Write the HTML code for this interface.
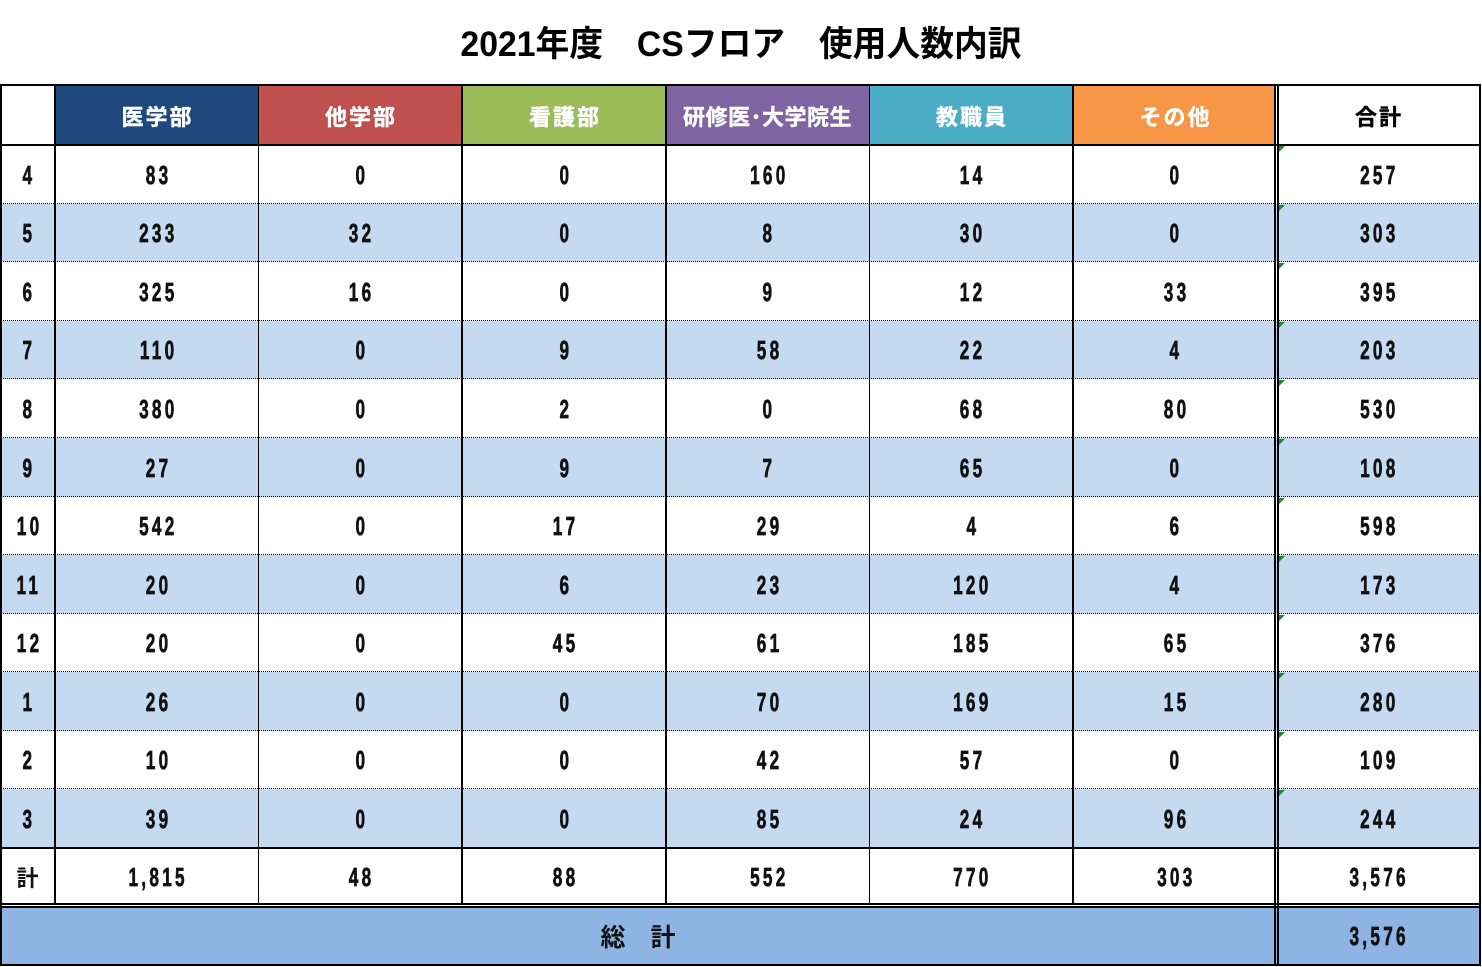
<!DOCTYPE html>
<html><head><meta charset="utf-8">
<style>
*{margin:0;padding:0;box-sizing:border-box}
html,body{width:1482px;height:967px;background:#fff;overflow:hidden}
body{position:relative;font-family:"Liberation Sans","Noto Sans CJK JP",sans-serif}
.title{position:absolute;left:0;top:20px;width:1482px;height:50px;line-height:50px;text-align:center;font-size:35px;font-weight:bold;color:#000;font-family:"Liberation Sans","Noto Sans CJK JP",sans-serif;transform:scaleX(.965)}
.row{position:absolute;left:0;width:1480px;display:flex}
.c{height:100%;display:flex;align-items:center;justify-content:center;flex:none}
.w0{width:55px}.w1{width:203px}.w2{width:204px}.w3{width:204px}.w4{width:203px}.w5{width:204px}.w6{width:203px}.w7{width:204px}
.alt .c{background:#C5D9F1}
.n{display:inline-block;font-family:"Liberation Sans",sans-serif;font-weight:bold;font-size:26px;letter-spacing:5px;padding-left:5px;transform:scaleX(.66);color:#111;line-height:1;-webkit-text-stroke:0.7px #111;margin-top:0}
.h{font-family:"Liberation Sans","Noto Sans CJK JP",sans-serif;font-weight:bold;font-size:22px;letter-spacing:2px;padding-left:2px;color:#fff;-webkit-text-stroke:0.4px #fff}
.hk{color:#000;-webkit-text-stroke:0.4px #000}
.j{font-family:"Noto Sans CJK JP",sans-serif;font-weight:bold;font-size:22px;color:#111}
.l{position:absolute;background:#000}
.d{position:absolute;left:0;width:1480px;height:0;border-top:1px dotted #000}
.g{position:absolute;left:1279px;width:0;height:0;border-top:6px solid #1f8a2a;border-right:6px solid transparent}
</style></head><body>
<div class="title">2021年度　CSフロア　使用人数内訳</div>

<!-- header -->
<div class="row" style="top:86px;height:59px">
<div class="c w0"></div>
<div class="c w1" style="background:#1F497D"><span class="h">医学部</span></div>
<div class="c w2" style="background:#C0504D"><span class="h">他学部</span></div>
<div class="c w3" style="background:#9BBB59"><span class="h">看護部</span></div>
<div class="c w4" style="background:#8064A2"><span class="h" style="letter-spacing:0.5px;padding-left:0">研修医･大学院生</span></div>
<div class="c w5" style="background:#4BACC6"><span class="h">教職員</span></div>
<div class="c w6" style="background:#F79646"><span class="h">その他</span></div>
<div class="c w7"><span class="h hk">合計</span></div>
</div>

<div class="row" style="top:145px;height:59px"><div class="c w0"><span class="n">4</span></div><div class="c w1"><span class="n">83</span></div><div class="c w2"><span class="n">0</span></div><div class="c w3"><span class="n">0</span></div><div class="c w4"><span class="n">160</span></div><div class="c w5"><span class="n">14</span></div><div class="c w6"><span class="n">0</span></div><div class="c w7"><span class="n">257</span></div></div>
<div class="row alt" style="top:204px;height:58px"><div class="c w0"><span class="n">5</span></div><div class="c w1"><span class="n">233</span></div><div class="c w2"><span class="n">32</span></div><div class="c w3"><span class="n">0</span></div><div class="c w4"><span class="n">8</span></div><div class="c w5"><span class="n">30</span></div><div class="c w6"><span class="n">0</span></div><div class="c w7"><span class="n">303</span></div></div>
<div class="row" style="top:262px;height:59px"><div class="c w0"><span class="n">6</span></div><div class="c w1"><span class="n">325</span></div><div class="c w2"><span class="n">16</span></div><div class="c w3"><span class="n">0</span></div><div class="c w4"><span class="n">9</span></div><div class="c w5"><span class="n">12</span></div><div class="c w6"><span class="n">33</span></div><div class="c w7"><span class="n">395</span></div></div>
<div class="row alt" style="top:321px;height:58px"><div class="c w0"><span class="n">7</span></div><div class="c w1"><span class="n">110</span></div><div class="c w2"><span class="n">0</span></div><div class="c w3"><span class="n">9</span></div><div class="c w4"><span class="n">58</span></div><div class="c w5"><span class="n">22</span></div><div class="c w6"><span class="n">4</span></div><div class="c w7"><span class="n">203</span></div></div>
<div class="row" style="top:379px;height:59px"><div class="c w0"><span class="n">8</span></div><div class="c w1"><span class="n">380</span></div><div class="c w2"><span class="n">0</span></div><div class="c w3"><span class="n">2</span></div><div class="c w4"><span class="n">0</span></div><div class="c w5"><span class="n">68</span></div><div class="c w6"><span class="n">80</span></div><div class="c w7"><span class="n">530</span></div></div>
<div class="row alt" style="top:438px;height:59px"><div class="c w0"><span class="n">9</span></div><div class="c w1"><span class="n">27</span></div><div class="c w2"><span class="n">0</span></div><div class="c w3"><span class="n">9</span></div><div class="c w4"><span class="n">7</span></div><div class="c w5"><span class="n">65</span></div><div class="c w6"><span class="n">0</span></div><div class="c w7"><span class="n">108</span></div></div>
<div class="row" style="top:497px;height:58px"><div class="c w0"><span class="n">10</span></div><div class="c w1"><span class="n">542</span></div><div class="c w2"><span class="n">0</span></div><div class="c w3"><span class="n">17</span></div><div class="c w4"><span class="n">29</span></div><div class="c w5"><span class="n">4</span></div><div class="c w6"><span class="n">6</span></div><div class="c w7"><span class="n">598</span></div></div>
<div class="row alt" style="top:555px;height:59px"><div class="c w0"><span class="n">11</span></div><div class="c w1"><span class="n">20</span></div><div class="c w2"><span class="n">0</span></div><div class="c w3"><span class="n">6</span></div><div class="c w4"><span class="n">23</span></div><div class="c w5"><span class="n">120</span></div><div class="c w6"><span class="n">4</span></div><div class="c w7"><span class="n">173</span></div></div>
<div class="row" style="top:614px;height:58px"><div class="c w0"><span class="n">12</span></div><div class="c w1"><span class="n">20</span></div><div class="c w2"><span class="n">0</span></div><div class="c w3"><span class="n">45</span></div><div class="c w4"><span class="n">61</span></div><div class="c w5"><span class="n">185</span></div><div class="c w6"><span class="n">65</span></div><div class="c w7"><span class="n">376</span></div></div>
<div class="row alt" style="top:672px;height:59px"><div class="c w0"><span class="n">1</span></div><div class="c w1"><span class="n">26</span></div><div class="c w2"><span class="n">0</span></div><div class="c w3"><span class="n">0</span></div><div class="c w4"><span class="n">70</span></div><div class="c w5"><span class="n">169</span></div><div class="c w6"><span class="n">15</span></div><div class="c w7"><span class="n">280</span></div></div>
<div class="row" style="top:731px;height:58px"><div class="c w0"><span class="n">2</span></div><div class="c w1"><span class="n">10</span></div><div class="c w2"><span class="n">0</span></div><div class="c w3"><span class="n">0</span></div><div class="c w4"><span class="n">42</span></div><div class="c w5"><span class="n">57</span></div><div class="c w6"><span class="n">0</span></div><div class="c w7"><span class="n">109</span></div></div>
<div class="row alt" style="top:789px;height:59px"><div class="c w0"><span class="n">3</span></div><div class="c w1"><span class="n">39</span></div><div class="c w2"><span class="n">0</span></div><div class="c w3"><span class="n">0</span></div><div class="c w4"><span class="n">85</span></div><div class="c w5"><span class="n">24</span></div><div class="c w6"><span class="n">96</span></div><div class="c w7"><span class="n">244</span></div></div>
<div class="row" style="top:848px;height:57px"><div class="c w0"><span class="j">計</span></div><div class="c w1"><span class="n">1,815</span></div><div class="c w2"><span class="n">48</span></div><div class="c w3"><span class="n">88</span></div><div class="c w4"><span class="n">552</span></div><div class="c w5"><span class="n">770</span></div><div class="c w6"><span class="n">303</span></div><div class="c w7"><span class="n">3,576</span></div></div>
<div class="row" style="top:907px;height:58px">
<div class="c" style="width:1276px;background:#8DB4E2"><span class="j" style="font-size:25px;color:#111">総　計</span></div>
<div class="c w7" style="background:#8DB4E2"><span class="n">3,576</span></div>
</div>

<!-- dotted separators -->
<div class="d" style="top:203px"></div>
<div class="d" style="top:261px"></div>
<div class="d" style="top:320px"></div>
<div class="d" style="top:378px"></div>
<div class="d" style="top:437px"></div>
<div class="d" style="top:496px"></div>
<div class="d" style="top:554px"></div>
<div class="d" style="top:613px"></div>
<div class="d" style="top:671px"></div>
<div class="d" style="top:730px"></div>
<div class="d" style="top:788px"></div>

<!-- horizontal solid lines -->
<div class="l" style="left:0;top:84px;width:1481px;height:2px"></div>
<div class="l" style="left:0;top:144px;width:1481px;height:2px"></div>
<div class="l" style="left:0;top:847px;width:1481px;height:2px"></div>
<div class="l" style="left:0;top:903px;width:1481px;height:2px"></div>
<div class="l" style="left:0;top:906px;width:1481px;height:2px"></div>
<div class="l" style="left:0;top:964px;width:1481px;height:2px"></div>

<!-- vertical lines -->
<div class="l" style="left:0;top:84px;width:2px;height:882px"></div>
<div class="l" style="left:54px;top:84px;width:2px;height:821px"></div>
<div class="l" style="left:258px;top:84px;width:1px;height:821px"></div>
<div class="l" style="left:461px;top:84px;width:2px;height:821px"></div>
<div class="l" style="left:665px;top:84px;width:2px;height:821px"></div>
<div class="l" style="left:869px;top:84px;width:1px;height:821px"></div>
<div class="l" style="left:1072px;top:84px;width:2px;height:821px"></div>
<div class="l" style="left:1274px;top:84px;width:2px;height:882px"></div>
<div class="l" style="left:1277px;top:84px;width:2px;height:882px"></div>
<div class="l" style="left:1479px;top:84px;width:2px;height:882px"></div>

<!-- green indicators -->
<div class="g" style="top:146px"></div>
<div class="g" style="top:205px"></div>
<div class="g" style="top:263px"></div>
<div class="g" style="top:322px"></div>
<div class="g" style="top:380px"></div>
<div class="g" style="top:439px"></div>
<div class="g" style="top:498px"></div>
<div class="g" style="top:556px"></div>
<div class="g" style="top:615px"></div>
<div class="g" style="top:673px"></div>
<div class="g" style="top:732px"></div>
<div class="g" style="top:790px"></div>
</body></html>
